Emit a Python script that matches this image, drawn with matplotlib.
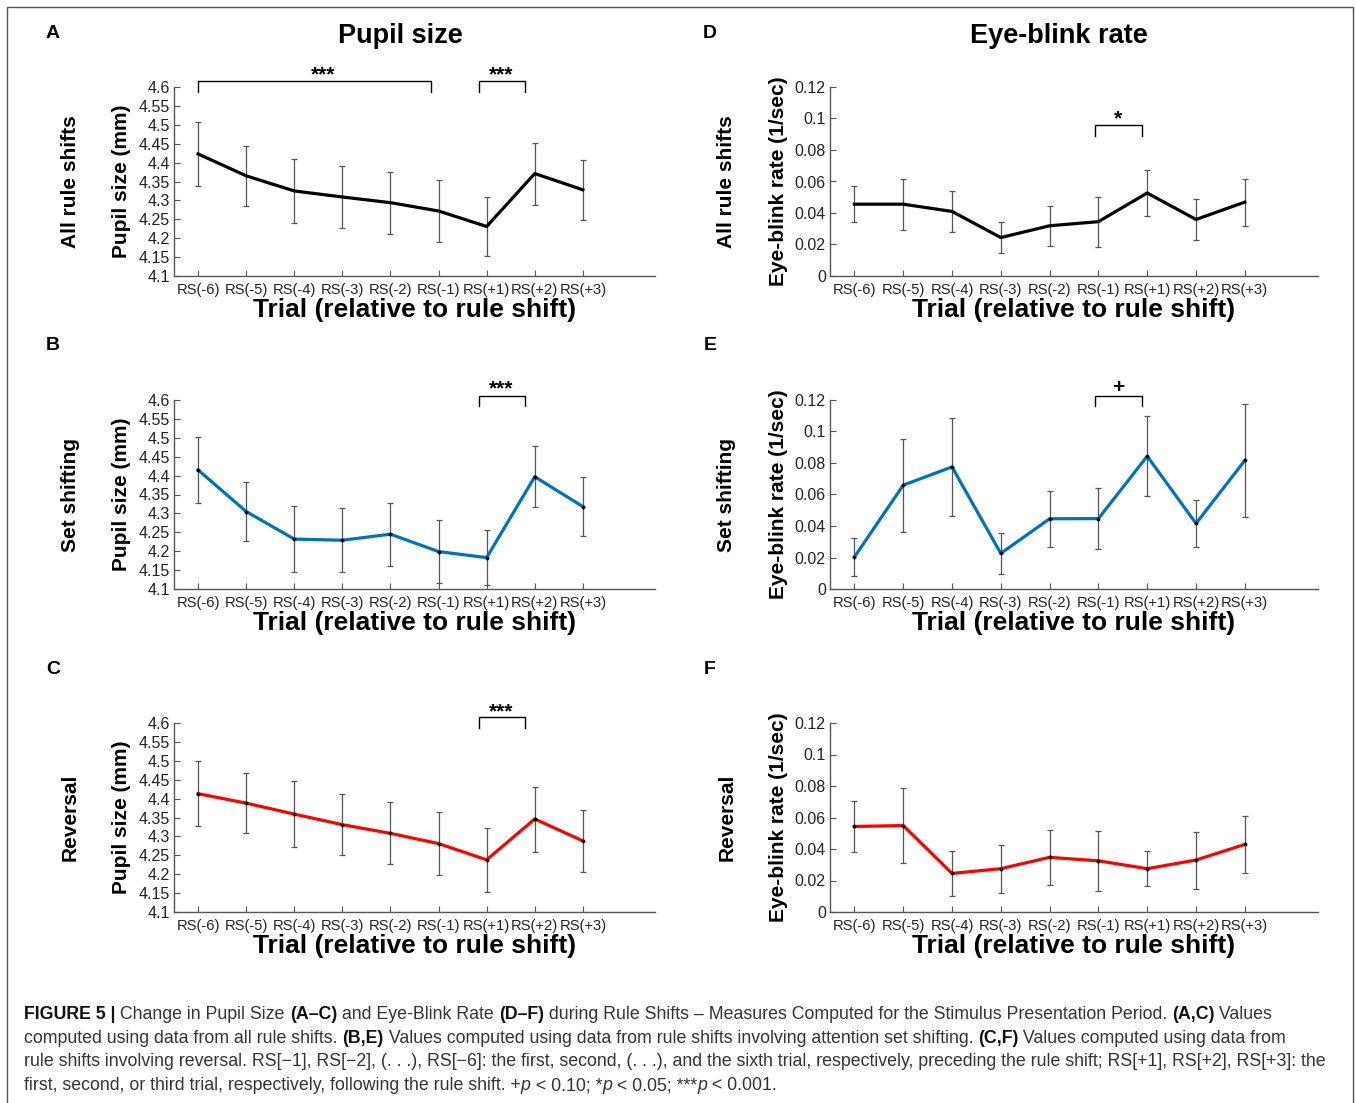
import matplotlib
matplotlib.use('Agg')
import matplotlib.pyplot as plt
import numpy as np
from matplotlib.patches import Rectangle

plt.rcParams['font.family'] = ['Liberation Sans', 'DejaVu Sans']

W, H = 1356, 1103

trials = ['RS(-6)', 'RS(-5)', 'RS(-4)', 'RS(-3)', 'RS(-2)', 'RS(-1)', 'RS(+1)', 'RS(+2)', 'RS(+3)']

# pupil size (mm), mean and half error bar
pupil_all = [4.423, 4.365, 4.325, 4.309, 4.294, 4.272, 4.231, 4.371, 4.328]
pupil_all_err = [0.085, 0.080, 0.084, 0.082, 0.082, 0.081, 0.078, 0.082, 0.080]
pupil_set = [4.415, 4.305, 4.232, 4.229, 4.245, 4.199, 4.183, 4.397, 4.318]
pupil_set_err = [0.087, 0.077, 0.087, 0.085, 0.083, 0.084, 0.072, 0.081, 0.079]
pupil_rev = [4.413, 4.388, 4.359, 4.331, 4.308, 4.281, 4.238, 4.346, 4.288]
pupil_rev_err = [0.086, 0.080, 0.088, 0.081, 0.082, 0.084, 0.084, 0.086, 0.082]

# eye-blink rate (1/sec)
blink_all = [0.0456, 0.0456, 0.0410, 0.0244, 0.0319, 0.0345, 0.0527, 0.0359, 0.0469]
blink_all_err = [0.0114, 0.0163, 0.0128, 0.0096, 0.0127, 0.0159, 0.0145, 0.0133, 0.0149]
blink_set = [0.0203, 0.0659, 0.0775, 0.0226, 0.0446, 0.0447, 0.0843, 0.0416, 0.0816]
blink_set_err = [0.0120, 0.0295, 0.0312, 0.0128, 0.0178, 0.0194, 0.0253, 0.0151, 0.0361]
blink_rev = [0.0543, 0.0549, 0.0245, 0.0275, 0.0347, 0.0325, 0.0275, 0.0330, 0.0429]
blink_rev_err = [0.0159, 0.0236, 0.0143, 0.0152, 0.0176, 0.0192, 0.0110, 0.0181, 0.0181]

# significance brackets: x1, x2, top, leg end, label, label x, label baseline
sig_A = [(1.0, 5.85, 4.615, 4.588, '***', 3.6, 4.617), (6.85, 7.8, 4.615, 4.588, '***', 7.3, 4.617)]
sig_B = [(6.85, 7.8, 4.611, 4.584, '***', 7.3, 4.614)]
sig_C = [(6.85, 7.8, 4.615, 4.587, '***', 7.3, 4.616)]
sig_D = [(5.93, 6.89, 0.0957, 0.0887, '*', 6.41, 0.0965)]
sig_E = [(5.93, 6.89, 0.1228, 0.1160, '+', 6.41, 0.1245)]
sig_F = []

row_names = ['All rule shifts', 'Set shifting', 'Reversal']
row_colors = ['black', '#0072BD', '#FF0000']

fig = plt.figure(figsize=(W / 100, H / 100), dpi=100)

# outer frame
fig.patches.append(Rectangle((7 / W, -0.01), (1353 - 7) / W, 1 - 7 / H + 0.01,
                             transform=fig.transFigure, fill=False,
                             edgecolor='#555555', linewidth=1.0))

col_x = [(174, 655), (830, 1318)]
row_y = [(87, 276), (400, 589), (723, 912)]

panels = [
    (0, 0, pupil_all, pupil_all_err, sig_A, 'A'),
    (1, 0, pupil_set, pupil_set_err, sig_B, 'B'),
    (2, 0, pupil_rev, pupil_rev_err, sig_C, 'C'),
    (0, 1, blink_all, blink_all_err, sig_D, 'D'),
    (1, 1, blink_set, blink_set_err, sig_E, 'E'),
    (2, 1, blink_rev, blink_rev_err, sig_F, 'F'),
]

x = np.arange(1, len(trials) + 1)

for r, c, vals, errs, sigs, letter in panels:
    x0, x1 = col_x[c]
    y0, y1 = row_y[r]
    ax = fig.add_axes([x0 / W, 1 - y1 / H, (x1 - x0) / W, (y1 - y0) / H])
    color = row_colors[r]

    ax.errorbar(x, vals, yerr=errs, fmt='none', ecolor='#555555', elinewidth=0.9,
                capsize=2.5, capthick=0.9, zorder=2)
    ax.plot(x, vals, color=color, linewidth=2.3, zorder=3)
    if r > 0:
        ax.plot(x, vals, linestyle='none', marker='o', markersize=1.8, color='black', zorder=4)

    ax.set_xlim(0.5, 10.5)
    ax.set_xticks(x)
    ax.set_xticklabels(trials, fontsize=10.6)
    if c == 0:
        ax.set_ylim(4.1, 4.6)
        yt = np.round(np.arange(4.1, 4.6001, 0.05), 2)
        ax.set_yticks(yt)
        ax.set_yticklabels([f'{v:g}' for v in yt], fontsize=11.5)
        ax.set_ylabel('Pupil size (mm)', fontsize=15, fontweight='bold')
        ax.yaxis.set_label_coords(-0.089, 0.5)
    else:
        ax.set_ylim(0, 0.12)
        yt = np.round(np.arange(0, 0.1201, 0.02), 2)
        ax.set_yticks(yt)
        ax.set_yticklabels([f'{v:g}' for v in yt], fontsize=11.5)
        ax.set_ylabel('Eye-blink rate (1/sec)', fontsize=15, fontweight='bold')
        ax.yaxis.set_label_coords(-0.086, 0.5)

    ax.set_xlabel('Trial (relative to rule shift)', fontsize=19, fontweight='bold', va='top')
    ax.xaxis.set_label_coords(0.5, -0.118)

    for side in ['top', 'right']:
        ax.spines[side].set_visible(False)
    for side in ['left', 'bottom']:
        ax.spines[side].set_color('#555555')
        ax.spines[side].set_linewidth(1.0)
    ax.tick_params(direction='in', length=4, width=0.8, color='#555555', labelcolor='#222222')
    ax.tick_params(axis='x', pad=5)
    ax.tick_params(axis='y', pad=3)

    for xa, xb, ytop, yleg, lab, xt, yt_ in sigs:
        ax.plot([xa, xa, xb, xb], [yleg, ytop, ytop, yleg], color='black', linewidth=1.0,
                clip_on=False, zorder=5)
        ax.text(xt, yt_, lab, ha='center', va='baseline', fontsize=15, fontweight='bold',
                clip_on=False)

    # panel letters and row names
    lx = 53 if c == 0 else 710
    fig.text(lx / W, 1 - (y0 - 54) / H, letter, ha='center', va='center',
             fontsize=14, fontweight='bold')
    rx = 70 if c == 0 else 727
    fig.text(rx / W, 1 - ((y0 + y1) / 2) / H, row_names[r], rotation=90,
             ha='center', va='center', fontsize=15, fontweight='bold')

fig.text(400 / W, 1 - 36 / H, 'Pupil size', ha='center', va='center', fontsize=19.5, fontweight='bold')
fig.text(1059 / W, 1 - 36 / H, 'Eye-blink rate', ha='center', va='center', fontsize=19.5, fontweight='bold')

# caption with mixed styles
cap_size = 12.8
cap_color = '#333333'
renderer = fig.canvas.get_renderer()


def seg_width(txt, weight, style):
    t = fig.text(0, 0, 'x' + txt + 'x', fontsize=cap_size, fontweight=weight, fontstyle=style)
    w1 = t.get_window_extent(renderer).width
    t.set_text('xx')
    w0 = t.get_window_extent(renderer).width
    t.remove()
    return w1 - w0


caption = [
    [('FIGURE 5 |', 'b'), (' Change in Pupil Size ', 'n'), ('(A–C)', 'b'), (' and Eye-Blink Rate ', 'n'),
     ('(D–F)', 'b'), (' during Rule Shifts – Measures Computed for the Stimulus Presentation Period. ', 'n'),
     ('(A,C)', 'b'), (' Values', 'n')],
    [('computed using data from all rule shifts. ', 'n'), ('(B,E)', 'b'),
     (' Values computed using data from rule shifts involving attention set shifting. ', 'n'),
     ('(C,F)', 'b'), (' Values computed using data from', 'n')],
    [('rule shifts involving reversal. RS[−1], RS[−2], (. . .), RS[−6]: the first, second, (. . .), and the sixth '
      'trial, respectively, preceding the rule shift; RS[+1], RS[+2], RS[+3]: the', 'n')],
    [('first, second, or third trial, respectively, following the rule shift. +', 'n'), ('p', 'i'),
     (' < 0.10; *', 'n'), ('p', 'i'), (' < 0.05; ***', 'n'), ('p', 'i'), (' < 0.001.', 'n')],
]

for i, line in enumerate(caption):
    xpos = 24
    ypos = 1019 + 23.7 * i
    for txt, kind in line:
        weight = 'bold' if kind == 'b' else 'normal'
        style = 'italic' if kind == 'i' else 'normal'
        col = '#111111' if kind == 'b' else cap_color
        fig.text(xpos / W, 1 - ypos / H, txt, fontsize=cap_size, fontweight=weight,
                 fontstyle=style, color=col, ha='left', va='baseline')
        xpos += seg_width(txt, weight, style)

fig.savefig('out.png', dpi=100)
